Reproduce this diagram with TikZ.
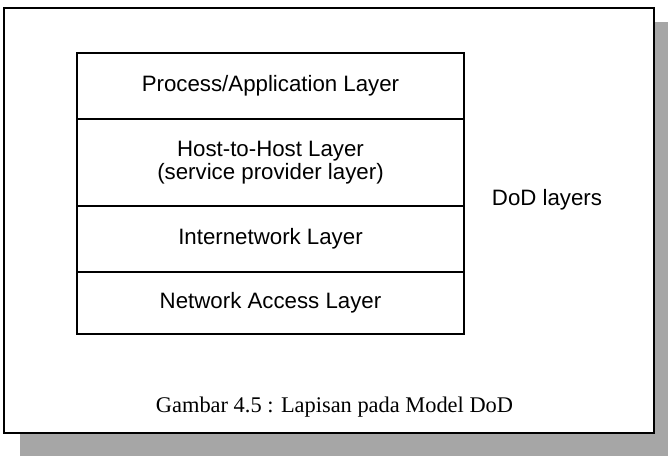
\documentclass[tikz,border=0pt]{standalone}
\usepackage{fontspec}
\setmainfont{Liberation Serif}
\newfontfamily\layerfont{Liberation Sans}
\begin{document}
\begin{tikzpicture}[
    x=0.75pt, y=-0.75pt,
    layer/.style={
        draw=black,
        line width=1.6pt,
        minimum width=290.25pt,
        inner sep=0pt,
        outer sep=0pt,
        align=center,
        font=\layerfont\fontsize{16.7pt}{17pt}\selectfont
    },
    note/.style={font=\layerfont\fontsize{16.7pt}{17pt}\selectfont, inner sep=0pt},
    caption/.style={font=\fontsize{16.8pt}{18pt}\selectfont, inner sep=0pt}
]
    \useasboundingbox (0,0) rectangle (668,456);
    \fill[black!35] (20,22) rectangle (668,456);
    \draw[fill=white, line width=1.2pt] (4,8) rectangle (654,433);

    \node[layer, minimum height=49.5pt] (process) at (270.5,86)
        {Process/Application Layer};
    \node[layer, minimum height=65.25pt] (host) at (270.5,162.5)
        {Host-to-Host Layer\\(service provider layer)};
    \node[layer, minimum height=49.5pt] (inet) at (270.5,239)
        {Internetwork Layer};
    \node[layer, minimum height=46.5pt] (netacc) at (270.5,303)
        {Network Access Layer};

    \node[note] (dod) at (547,200) {DoD layers};
    \node[caption] (cap) at (334.5,407) {Gambar 4.5 : Lapisan pada Model DoD};
\end{tikzpicture}
\end{document}
